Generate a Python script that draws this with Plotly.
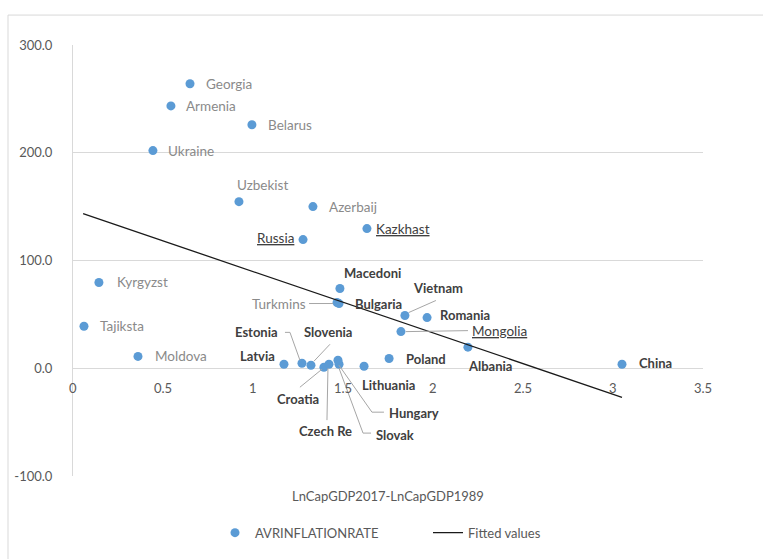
import plotly.graph_objects as go

# ---- data ----
countries = ["Georgia", "Armenia", "Belarus", "Ukraine", "Uzbekist", "Azerbaij", "Russia", "Kazkhast",
             "Kyrgyzst", "Tajiksta", "Moldova", "Macedoni", "Turkmins", "Bulgaria", "Vietnam", "Romania",
             "Mongolia", "Albania", "Poland", "Latvia", "Estonia", "Slovenia", "Croatia", "Czech Re",
             "Hungary", "Slovak", "Lithuania", "China"]
gdp_growth = [0.65, 0.544, 0.994, 0.444, 0.922, 1.333, 1.278, 1.633,
              0.144, 0.061, 0.361, 1.483, 1.467, 1.478, 1.844, 1.967,
              1.822, 2.194, 1.756, 1.172, 1.272, 1.322, 1.394, 1.422,
              1.472, 1.478, 1.617, 3.05]
inflation = [264.0, 243.5, 226.0, 202.0, 154.6, 150.0, 119.4, 129.6,
             79.6, 39.0, 11.0, 74.0, 61.0, 60.0, 49.0, 47.0,
             34.0, 19.6, 9.0, 3.7, 4.6, 2.8, 0.9, 3.7,
             7.4, 3.7, 1.9, 3.7]
fit_x = [0.056, 3.05]
fit_y = [143.5, -27.0]

x_ticks = [0, 0.5, 1, 1.5, 2, 2.5, 3, 3.5]
x_tick_labels = ["0", "0.5", "1", "1.5", "2", "2.5", "3", "3.5"]
y_ticks = [-100, 0, 100, 200, 300]
y_tick_labels = ["-100.0", "0.0", "100.0", "200.0", "300.0"]

# ---- label layout (style, anchor, pixel offsets, leader path offsets) ----
label_layout = {
    "Georgia": ("hand", "left", 14, 0, None),
    "Armenia": ("hand", "left", 13, 0, None),
    "Belarus": ("hand", "left", 14, 0, None),
    "Ukraine": ("hand", "left", 13, 0, None),
    "Uzbekist": ("hand", "center", 24, -17, None),
    "Azerbaij": ("hand", "left", 14, 0, None),
    "Russia": ("under", "right", -7, -2, None),
    "Kazkhast": ("under", "left", 7, 0, None),
    "Kyrgyzst": ("hand", "left", 16, 0, None),
    "Tajiksta": ("hand", "left", 14, 0, None),
    "Moldova": ("hand", "left", 15, 0, None),
    "Macedoni": ("bold", "center", 33, -16, None),
    "Turkmins": ("hand", "right", -29, 1, [(-28, 1), (-4, 1)]),
    "Bulgaria": ("bold", "left", 14, 0, None),
    "Vietnam": ("bold", "center", 33, -27, [(4, -3), (31, -15)]),
    "Romania": ("bold", "left", 11, -3, None),
    "Mongolia": ("under", "left", 69, -1, [(5, 0), (67, -1)]),
    "Albania": ("bold", "left", -2, 19, None),
    "Poland": ("bold", "left", 15, 0, None),
    "Latvia": ("bold", "right", -7, -8, None),
    "Estonia": ("bold", "right", -22, -31, [(-17, -31), (-12, -31), (-2, -3)]),
    "Slovenia": ("bold", "left", -9, -33, [(19, -21), (3, -4)]),
    "Croatia": ("bold", "center", -26, 32, [(-2, 2), (-24, 20)]),
    "Czech Re": ("bold", "center", -3, 67, [(-1, 4), (-2, 56)]),
    "Hungary": ("bold", "left", 49, 53, [(1, 5), (34, 52), (46, 52)]),
    "Slovak": ("bold", "left", 35, 71, [(0, 4), (24, 69), (32, 69)]),
    "Lithuania": ("bold", "center", 24, 19, None),
    "China": ("bold", "left", 15, -1, None),
}

styles = {
    "hand": dict(family="Lato, 'Open Sans', sans-serif", size=13.5, color="#8a8a8a"),
    "bold": dict(family="Lato, 'Open Sans', sans-serif", size=13, color="#404040", weight="bold"),
    "under": dict(family="Lato, 'Open Sans', sans-serif", size=13.5, color="#404040"),
}

W, H = 763, 559
ML, MR, MT, MB = 73, 60, 45, 82
plot_w = W - ML - MR
plot_h = H - MT - MB
x_range = [0, 3.5]
y_range = [-100, 300]
px_per_x = plot_w / (x_range[1] - x_range[0])
px_per_y = plot_h / (y_range[1] - y_range[0])

fig = go.Figure()
fig.add_trace(go.Scatter(
    x=gdp_growth, y=inflation, mode="markers", name="AVRINFLATIONRATE",
    marker=dict(color="#5b9bd5", size=9, line=dict(width=0)),
))
fig.add_trace(go.Scatter(
    x=fit_x, y=fit_y, mode="lines", name="Fitted values",
    line=dict(color="#1a1a1a", width=1.3),
))

annotations = []
shapes = []
for c, xv, yv in zip(countries, gdp_growth, inflation):
    style, anchor, dx, dy, leader = label_layout[c]
    txt = f"<u>{c}</u>" if style == "under" else c
    annotations.append(dict(
        x=xv, y=yv, xref="x", yref="y", text=txt, showarrow=False,
        xanchor=anchor, yanchor="middle", xshift=dx, yshift=-dy,
        font=styles[style],
    ))
    if leader:
        pts = [(xv + ox / px_per_x, yv - oy / px_per_y) for ox, oy in leader]
        path = "M " + " L ".join(f"{px},{py}" for px, py in pts)
        shapes.append(dict(type="path", path=path, xref="x", yref="y",
                           line=dict(color="#a6a6a6", width=1), layer="above"))

# x tick labels (drawn under the y=0 axis line)
for tv, tl in zip(x_ticks, x_tick_labels):
    annotations.append(dict(
        x=tv, y=0, xref="x", yref="y", text=tl, showarrow=False,
        xanchor="center", yanchor="top", yshift=-10,
        font=dict(family="Lato, sans-serif", size=13, color="#595959"),
    ))

# x axis title
annotations.append(dict(
    x=0.5, y=-100, xref="paper", yref="y", text="LnCapGDP2017-LnCapGDP1989",
    showarrow=False, xanchor="center", yanchor="middle", yshift=-20,
    font=dict(family="Lato, sans-serif", size=13, color="#595959"),
))

# outer chart border
shapes.append(dict(type="rect", xref="paper", yref="paper",
                   x0=(8 - ML) / plot_w, x1=2, y0=-1, y1=1 + (MT - 15) / plot_h,
                   line=dict(color="#d9d9d9", width=1), layer="below"))

fig.update_layout(
    width=W, height=H,
    margin=dict(l=ML, r=MR, t=MT, b=MB),
    paper_bgcolor="white", plot_bgcolor="white",
    font=dict(family="Lato, sans-serif", size=13, color="#595959"),
    xaxis=dict(range=x_range, tickvals=x_ticks, showticklabels=False,
               showgrid=False, zeroline=False, showline=False, ticks=""),
    yaxis=dict(range=y_range, tickvals=y_ticks, ticktext=y_tick_labels,
               showgrid=True, gridcolor="#d9d9d9", gridwidth=1,
               zeroline=True, zerolinecolor="#d9d9d9", zerolinewidth=1,
               showline=True, linecolor="#d9d9d9", linewidth=1,
               ticks="", ticklabelstandoff=17,
               tickfont=dict(family="Lato, sans-serif", size=13, color="#595959")),
    legend=dict(orientation="h", x=(216 - ML - 1) / plot_w, xanchor="left",
                y=-0.129, yanchor="middle",
                font=dict(family="Lato, sans-serif", size=13, color="#595959"),
                itemwidth=30, entrywidth=168, tracegroupgap=0,
                bgcolor="rgba(0,0,0,0)", borderwidth=0),
    annotations=annotations,
    shapes=shapes,
    showlegend=True,
)

fig.write_html("out.html")
